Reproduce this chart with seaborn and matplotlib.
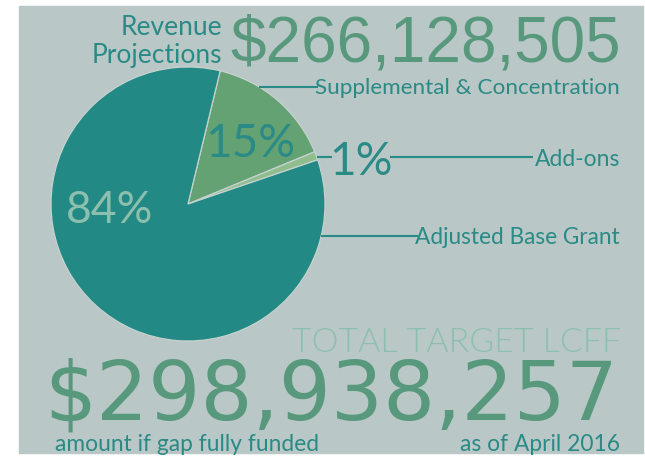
import matplotlib
matplotlib.use("Agg")
import matplotlib.pyplot as plt
import numpy as np
import seaborn as sns

# revenue split, percent of projected revenue
categories = ["Supplemental & Concentration", "Add-ons", "Adjusted Base Grant"]
shares = [15, 1, 84]
share_labels = ["15%", "1%", "84%"]
revenue_projection = "$266,128,505"
total_target = "$298,938,257"
wedge_colors = ["#64a273", "#8fbe8c", "#228985"]

sns.set_theme(style="white")

W, H = 645, 458
bg = "#b9c8c6"
teal = "#2a8a86"
num_green = "#58997d"
pale = "#8cbfae"

fig = plt.figure(figsize=(W / 100, H / 100), dpi=100, facecolor="white")
ax = fig.add_axes([0, 0, 1, 1])
ax.add_patch(plt.Rectangle((19, H - 453), 624, 447, color=bg, zorder=0))

# pie, drawn clockwise from the top-right
cx, cy, r = 188, H - 204, 137
wedges, _ = ax.pie(shares, colors=wedge_colors, startangle=76.4, counterclock=False,
                   center=(cx, cy), radius=r,
                   wedgeprops=dict(edgecolor="#c6d2cf", linewidth=0.9))
ax.set_xlim(0, W)
ax.set_ylim(0, H)
ax.set_aspect("equal")
ax.axis("off")


def txt(x, y, s, **kw):
    # y given from the top of the picture
    ax.text(x, H - y, s, va="baseline", **kw)


def leader(y, x1, x0=None):
    if x0 is None:
        x0 = cx + np.sqrt(r ** 2 - ((H - y) - cy) ** 2)
    ax.plot([x0, x1], [H - y, H - y], color=teal, lw=1.5, solid_capstyle="butt")


# header
txt(222, 35, "Revenue", ha="right", fontsize=19, color=teal, family="Lato")
txt(222, 63, "Projections", ha="right", fontsize=19, color=teal, family="Lato")
txt(621, 62, revenue_projection, ha="right", fontsize=46, color=num_green,
    family="Liberation Sans")

# category labels with leader lines
leader(87, 318)
txt(620, 94, categories[0], ha="right", fontsize=16.2, color=teal, family="Lato")

leader(157, 332)
leader(157, 533, 390)
txt(361, 175, share_labels[1], ha="center", fontsize=33, color=teal, family="Lato")
txt(620, 166, categories[1], ha="right", fontsize=16.5, color=teal, family="Lato")

leader(236, 418)
txt(620, 244, categories[2], ha="right", fontsize=16.3, color=teal, family="Lato")

# percentages inside the pie
txt(250, 157, share_labels[0], ha="center", fontsize=33, color=teal, family="Lato")
txt(110, 223, share_labels[2], ha="center", fontsize=32, color=pale, family="Lato")

# footer
txt(621, 352, "TOTAL TARGET LCFF", ha="right", fontsize=24.5, color=pale,
    family="Lato", fontweight=300)
txt(618, 419, total_target, ha="right", fontsize=59, color=num_green, family="DejaVu Sans")
txt(55, 451, "amount if gap fully funded", ha="left", fontsize=16.4, color=teal, family="Lato")
txt(620, 451, "as of April 2016", ha="right", fontsize=16.4, color=teal, family="Lato")

fig.savefig("out.png", dpi=100, facecolor="white")
